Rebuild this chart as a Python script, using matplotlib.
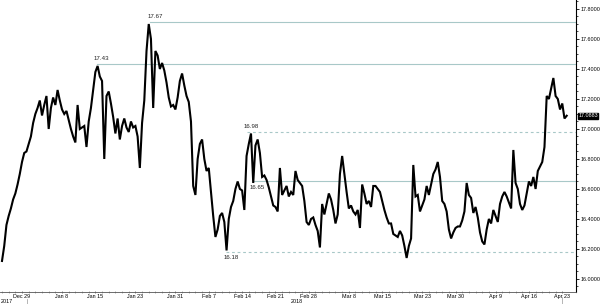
import matplotlib
matplotlib.use("Agg")
import matplotlib.pyplot as plt
from matplotlib.lines import Line2D
import numpy as np
import pandas as pd

plt.rcParams['font.family'] = ['Liberation Sans Narrow', 'Liberation Sans', 'DejaVu Sans']

# USD/MXN, three samples per trading day, 26 Dec 2017 - 23 Apr 2018
first_day = "2017-12-26"
last_day = "2018-04-23"
per_day = 3

usdmxn = [
    16.12, 16.22, 16.36, 16.42, 16.47, 16.53, 16.57, 16.63, 16.70, 16.78,
    16.84, 16.85, 16.90, 16.95, 17.04, 17.10, 17.14, 17.19, 17.09, 17.16,
    17.22, 17.00, 17.14, 17.21, 17.16, 17.26, 17.19, 17.13, 17.10, 17.12,
    17.06, 17.00, 16.95, 16.91, 17.16, 17.00, 17.01, 17.02, 16.88, 17.05,
    17.14, 17.26, 17.38, 17.42, 17.35,
    17.32, 16.80, 17.22, 17.25, 17.17, 17.08, 16.97, 17.07, 16.93, 17.02,
    17.07, 17.01, 16.98, 17.05, 17.01, 17.02, 16.95, 16.74, 17.04, 17.19,
    17.52, 17.70, 17.60, 17.14, 17.52, 17.49, 17.40, 17.44, 17.39, 17.31,
    17.21, 17.15, 17.16, 17.13, 17.21, 17.32, 17.37, 17.29, 17.22, 17.18,
    17.05, 16.62, 16.56, 16.80, 16.90,
    16.93, 16.80, 16.72, 16.74, 16.58, 16.42, 16.28, 16.33, 16.42, 16.44,
    16.38, 16.19, 16.40, 16.48, 16.52, 16.60, 16.65, 16.60, 16.59, 16.46,
    16.82, 16.90, 16.97, 16.64, 16.89, 16.93, 16.84, 16.68, 16.69, 16.66,
    16.61, 16.55, 16.49, 16.48, 16.45, 16.74, 16.56, 16.59, 16.62, 16.55,
    16.58, 16.56, 16.72, 16.66, 16.64,
    16.62, 16.52, 16.38, 16.36, 16.40, 16.41, 16.36, 16.32, 16.21, 16.50,
    16.43, 16.50, 16.57, 16.53, 16.46, 16.37, 16.43, 16.70, 16.82, 16.70,
    16.58, 16.47, 16.49, 16.45, 16.43, 16.46, 16.34, 16.63, 16.57, 16.50,
    16.52, 16.48, 16.62, 16.62, 16.60, 16.58, 16.52, 16.46, 16.41, 16.37,
    16.37, 16.30, 16.29, 16.28, 16.32,
    16.29, 16.22, 16.14, 16.22, 16.27, 16.76, 16.55, 16.56, 16.45, 16.49,
    16.53, 16.62, 16.56, 16.63, 16.70, 16.73, 16.78, 16.68, 16.52, 16.50,
    16.45, 16.33, 16.27, 16.31, 16.34, 16.35, 16.35, 16.39, 16.45, 16.64,
    16.56, 16.54, 16.44, 16.48, 16.41, 16.31, 16.25, 16.23, 16.33, 16.40,
    16.37, 16.46, 16.42, 16.38, 16.50,
    16.55, 16.58, 16.55, 16.51, 16.47, 16.86, 16.64, 16.60, 16.50, 16.46,
    16.49, 16.57, 16.65, 16.62, 16.68, 16.60, 16.72, 16.75, 16.78, 16.88,
    17.22, 17.20, 17.27, 17.34, 17.22, 17.20, 17.13, 17.17, 17.07, 17.0883,
]

tick_dates = ["2017-12-29", "2018-01-08", "2018-01-15", "2018-01-23", "2018-01-31",
              "2018-02-07", "2018-02-14", "2018-02-21", "2018-02-28", "2018-03-08",
              "2018-03-15", "2018-03-23", "2018-03-30", "2018-04-09", "2018-04-16",
              "2018-04-23"]
tick_labels = ["Dec 29", "Jan 8", "Jan 15", "Jan 23", "Jan 31", "Feb 7", "Feb 14",
               "Feb 21", "Feb 28", "Mar 8", "Mar 15", "Mar 23", "Mar 30", "Apr 9",
               "Apr 16", "Apr 23"]

# support / resistance levels: line value, label, start (trading days), style
level_values = [17.71, 17.43, 16.98, 16.65, 16.18]
level_labels = ["17.67", "17.43", "16.98", "16.65", "16.18"]
level_start = [22.2, 14.2, 36.7, 37.6, 33.6]
level_dashed = [False, False, True, False, True]
label_below = [False, False, False, True, True]

y_ticks = [16.0, 16.2, 16.4, 16.6, 16.8, 17.0, 17.2, 17.4, 17.6, 17.8]

days = pd.bdate_range(first_day, last_day)
t = np.arange(len(usdmxn)) / per_day
tick_pos = [days.get_loc(pd.Timestamp(d)) for d in tick_dates]

W, H = 600, 304
FS = 3.9
fig = plt.figure(figsize=(W / 100, H / 100), dpi=100)
ax = fig.add_axes([0, 12 / H, 576 / W, 1 - 12 / H])

lvl_color = "#a8c8c8"
for val, lab, start, dashed, below in zip(level_values, level_labels, level_start,
                                          level_dashed, label_below):
    ax.plot([start, len(days) + 2], [val, val], color=lvl_color, lw=0.8,
            ls=(0, (2.5, 2.5)) if dashed else "-", zorder=1)
    ax.annotate(lab, xy=(start, val), xytext=(-2, -2.5 if below else 2.5),
                textcoords="offset points", ha="left",
                va="top" if below else "bottom", fontsize=4.4, color="#222222")

ax.plot(t, usdmxn, color="black", lw=1.5, zorder=3, solid_joinstyle="miter")

ax.set_xlim(-0.3, 86.06)
ax.set_ylim(15.913, 17.86)

ax.spines["left"].set_visible(False)
ax.spines["top"].set_visible(False)
ax.spines["right"].set_linewidth(0.8)
ax.spines["bottom"].set_linewidth(0.6)
ax.spines["bottom"].set_color("#555555")

ax.yaxis.tick_right()
ax.set_yticks(y_ticks)
ax.set_yticklabels([f"{v:.4f}" for v in y_ticks])
ax.set_yticks(np.arange(15.95, 17.86, 0.05), minor=True)
ax.tick_params(axis="y", which="major", labelsize=FS, length=2.2, pad=0.8, width=0.6)
ax.tick_params(axis="y", which="minor", length=1.2, width=0.5)

ax.set_xticks(tick_pos)
ax.set_xticklabels(tick_labels)
ax.set_xticks(np.arange(len(days)), minor=True)
ax.tick_params(axis="x", which="major", labelsize=FS, length=2, pad=0.2,
               width=0.5, direction="inout", color="#555555")
ax.tick_params(axis="x", which="minor", length=1.5, width=0.4,
               direction="inout", color="#777777")

ax.annotate(f"{usdmxn[-1]:.4f}", xy=(1, usdmxn[-1]), xycoords=("axes fraction", "data"),
            xytext=(1.6, 0), textcoords="offset points", ha="left", va="center",
            fontsize=FS, color="white",
            bbox=dict(boxstyle="square,pad=0.1", fc="black", ec="black"))

fig.text(1 / W, 1 - 301.5 / H, "2017", fontsize=FS, ha="left", va="center")
fig.text(291 / W, 1 - 301.5 / H, "2018", fontsize=FS, ha="left", va="center")
fig.add_artist(Line2D([27 / W, 27 / W], [0, 5 / H], color="#999999", lw=0.5))
fig.add_artist(Line2D([562 / W, 562 / W], [0, 7 / H], color="#999999", lw=0.5))

fig.savefig("out.png", dpi=100)
